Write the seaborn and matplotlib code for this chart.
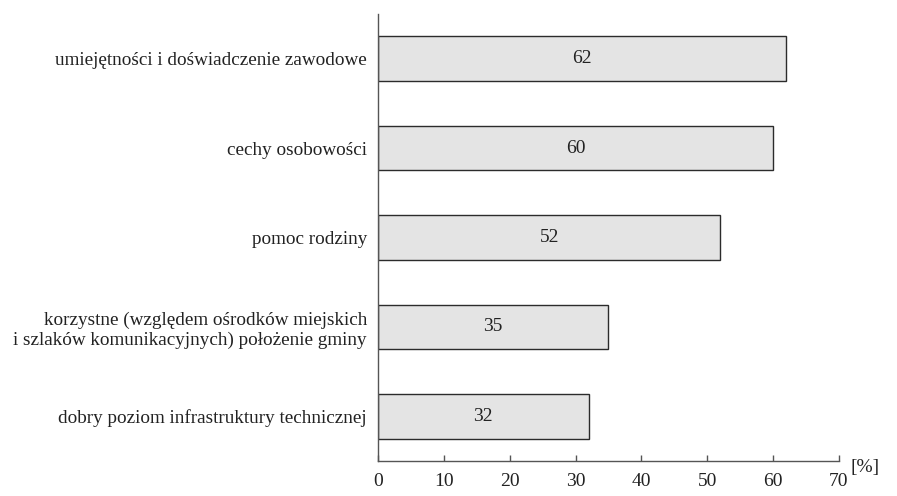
import matplotlib
matplotlib.use("Agg")
import matplotlib.pyplot as plt
import pandas as pd
import seaborn as sns

# ---------------------------------------------------------------------------
# Data
# ---------------------------------------------------------------------------
categories = [
    "umiejętności i doświadczenie zawodowe",
    "cechy osobowości",
    "pomoc rodziny",
    "korzystne (względem ośrodków miejskich\ni szlaków komunikacyjnych) położenie gminy",
    "dobry poziom infrastruktury technicznej",
]
values = [62, 60, 52, 35, 32]
x_ticks = [0, 10, 20, 30, 40, 50, 60, 70]

df = pd.DataFrame({"kategoria": categories, "procent": values})

sns.set_theme(style="white")
plt.rcParams["font.family"] = ["Liberation Serif", "DejaVu Serif"]

fig = plt.figure(figsize=(8.97, 4.96), dpi=100)
ax = fig.add_axes([0.4214, 0.0706, 0.5139, 0.9012])

sns.barplot(
    data=df, x="procent", y="kategoria", orient="h",
    color="#e4e4e4", edgecolor="#2b2b2b", linewidth=1.0,
    width=0.5, saturation=1, ax=ax,
)

for container in ax.containers:
    ax.bar_label(container, label_type="center", fontsize=14, color="#222222")

ax.set_xlim(0, 70)
ax.set_ylim(4.5, -0.5)
ax.set_xticks(x_ticks)
ax.set_xlabel("")
ax.set_ylabel("")

for side in ["top", "right"]:
    ax.spines[side].set_visible(False)
for side in ["left", "bottom"]:
    ax.spines[side].set_color("#555555")
    ax.spines[side].set_linewidth(1.0)

ax.tick_params(axis="x", direction="in", length=4, width=1, color="#555555",
               labelsize=14, labelcolor="#222222", pad=9, bottom=True)
ax.tick_params(axis="y", length=0, labelsize=13.8, labelcolor="#222222", pad=8)

ax.text(1.025, 0.005, "[%]", transform=ax.transAxes, fontsize=14,
        color="#222222", ha="left", va="top")

fig.savefig("out.png", dpi=100)
